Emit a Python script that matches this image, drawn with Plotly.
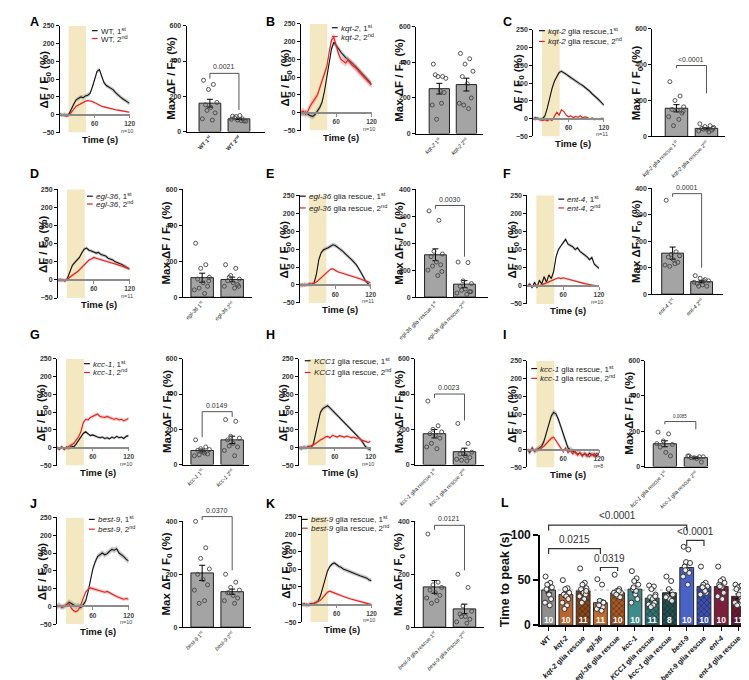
import plotly.graph_objects as go

W, H = 749, 680
FONT = "Arial, Liberation Sans, sans-serif"

# ---------------- time-course data (mean traces, %), t = 0..120 s every 4 s ----------------
T = list(range(0, 121, 4))
A_1st = [2,-1,1,-2,3, 18,30,42,45,50, 48,53,55,60,78, 102,122,127,110,90, 82,78,74,70,62, 55,50,45,40,36, 32]
A_2nd = [0,-2,-3,-4,-2, 8,16,24,28,32, 35,38,40,39,37, 34,30,26,24,22, 20,19,17,16,14, 13,12,10,9,8, 7]
B_1st = [0,-3,2,-5,-8, -10,-5,5,15,30, 60,100,140,180,198, 190,180,170,162,155, 150,145,138,132,125, 118,110,102,95,88, 80]
B_2nd = [0,5,-5,5,20, 30,40,50,70,90, 110,130,170,205,212, 185,165,150,145,140, 148,140,132,128,120, 112,105,98,92,85, 78]
C_1st = [0,2,0,-2,0, 8,30,60,85,105, 120,130,133,130,125, 120,115,110,105,100, 97,93,88,82,77, 70,65,58,52,45, 38]
C_2nd = [0,-3,2,-4,-5, -3,-6,-2,-5,8, 18,10,25,20,10, 5,8,3,6,4, 8,2,5,3,-2, 2,-3,0,-2,1, 0]
D_1st = [0,-2,0,-3,5, 25,40,48,55,62, 75,85,88,82,80, 78,74,76,70,68, 66,60,58,55,50, 48,44,42,38,35, 30]
D_2nd = [0,2,-2,0,2, 8,12,18,22,28, 35,40,48,55,58, 62,60,58,56,55, 52,50,50,47,45, 42,40,38,35,32, 30]
E_1st = [0,-2,2,0,2, 2,5,30,70,90, 98,100,104,108,112, 110,106,100,95,88, 82,76,70,64,56, 45,35,22,10,2, -3]
E_2nd = [0,2,-2,0,3, 2,4,8,14,20, 26,32,38,44,45, 40,37,35,33,31, 30,28,26,24,22, 19,16,13,10,8, 6]
F_1st = [0,5,-5,10,-5, 15,5,25,10,30, 20,40,80,100,110, 120,128,115,112,108, 100,105,95,90,85, 80,72,78,60,55, 48]
F_2nd = [0,2,-2,0,2, 0,3,5,8,10, 15,18,20,22,20, 22,20,18,17,15, 14,12,10,8,6, 5,3,2,1,0, -2]
G_1st = [0,-5,3,-4,2, -3,5,2,10,20, 30,40,45,38,34, 36,32,30,28,30, 26,28,25,30,27, 32,28,30,26,32, 34]
G_2nd = [0,-3,2,-5,0, 3,8,12,20,30, 45,70,80,78,85, 88,92,95,88,86, 85,88,84,82,80, 82,78,80,76,78, 82]
H_1st = [0,-3,2,0,3, 0,10,40,75,100, 110,115,118,112,105, 98,92,85,80,72, 65,58,50,45,38, 30,22,12,2,-3, -5]
H_2nd = [0,2,-2,0,2, 5,8,12,18,22, 25,30,32,28,35, 32,30,34,32,30, 33,30,28,30,26, 28,22,20,18,15, 18]
I_1st = [0,-8,5,-5,0, 5,10,25,50,75, 95,105,100,85,65, 40,20,5,0,-5, -8,-12,-10,-15,-12, -18,-10,-15,-12,-18, -10]
I_2nd = [0,-5,3,-3,2, 0,5,10,18,25, 32,35,25,12,2, -5,5,-8,-2,-12, -5,-15,-8,-18,-10, -15,-20,-12,-18,-10, -15]
J_1st = [0,3,-2,0,5, 12,8,3,0,2, -3,5,15,40,75, 105,125,140,145,150, 145,148,155,160,158, 162,150,145,140,132, 128]
J_2nd = [0,2,-2,0,5, 8,-5,-12,-15,-10, 5,25,40,48,52, 50,48,46,44,42, 40,42,38,36,32, 28,25,22,20,22, 20]
K_1st = [0,2,-2,0,3, 2,5,10,25,50, 75,95,108,115,118, 112,108,105,100,98, 95,92,90,88,85, 82,80,78,75,70, 68]
K_2nd = [0,-2,2,-3,0, 3,5,8,12,20, 28,35,38,36,33, 30,28,25,22,20, 18,16,14,12,10, 8,6,4,3,2, 0]

# ---------------- max dF/F0 per animal (bar panels) ----------------
A_pts = ([291,267,239,165,152,137,106,72,65,120], [87,72,65,59,78,91,60,70,62,85]); A_mean = [161, 72]; A_sem = [22, 4]
B_pts = ([390,320,320,310,330,240,230,160,170,80], [450,420,390,350,320,280,200,170,140,160]); B_mean = [252, 275]; B_sem = [30, 36]
C_pts = ([305,225,200,165,150,145,130,110,95,60,140], [70,60,55,50,45,40,35,30,25,40,45]); C_mean = [157, 45]; C_sem = [20, 4]
D_pts = ([300,180,160,110,100,80,60,40,20,50,90], [180,160,120,100,90,80,70,60,50,110,60]); D_mean = [108, 98]; D_sem = [25, 13]
E_pts = ([320,285,170,160,150,130,120,100,80,115,95], [130,128,60,50,40,30,20,15,10,25,20]); E_mean = [157, 48]; E_sem = [22, 13]
F_pts = ([355,160,150,145,140,130,120,110,115,105], [70,55,60,50,40,35,30,45,50,30]); F_mean = [155, 47]; F_sem = [23, 4]
G_pts = ([140,100,90,85,80,70,60,50,65,55], [255,245,160,150,140,120,100,80,50,105]); G_mean = [80, 140]; G_sem = [8, 21]
H_pts = ([360,220,200,185,175,165,150,100,90,120], [233,120,80,70,60,50,40,30,20,25]); H_mean = [175, 73]; H_sem = [24, 20]
I_pts = ([195,185,145,125,110,80,60,130], [60,55,50,55,50,45,25,60]); I_mean = [129, 50]; I_sem = [17, 4]
J_pts = ([400,300,260,220,200,180,160,140,100,90], [200,170,150,140,130,120,110,100,90,130]); J_mean = [205, 134]; J_sem = [29, 10]
K_pts = ([352,170,160,150,140,130,120,110,100,90], [200,150,80,60,50,40,30,20,15,40]); K_mean = [152, 69]; K_sem = [24, 18]

# ---------------- panel L: time to peak ----------------
L_labels = ["<b>WT</b>", "<b><i>kqt-2</i></b>", "<b><i>kqt-2</i> glia rescue</b>", "<b><i>egl-36</i></b>",
            "<b><i>egl-36</i> glia rescue</b>", "<b><i>kcc-1</i></b>", "<b><i>KCC1</i> glia rescue</b>",
            "<b><i>kcc-1</i> glia rescue</b>", "<b><i>best-9</i></b>", "<b><i>best-9</i> glia rescue</b>",
            "<b><i>ent-4</i></b>", "<b><i>ent-4</i> glia rescue</b>"]
L_mean = [39, 34, 38, 25, 36, 40, 30, 36, 64, 43, 43, 32]
L_sem = [3.3, 3.0, 3.2, 3.0, 2.4, 3.4, 2.5, 3.3, 4.0, 2.7, 3.2, 2.6]
L_n = [10, 10, 11, 11, 10, 10, 11, 8, 10, 10, 10, 11]
L_pts = [[54,47,44,42,40,34,29,25,22,45],
         [50,41,40,36,34,32,29,25,22,18],
         [63,47,45,41,40,36,34,32,29,25,38],
         [51,45,27,25,23,22,20,18,16,22,25],
         [56,40,38,36,34,32,31,36,38,34],
         [60,52,49,45,40,34,29,25,38,42],
         [44,43,40,34,31,29,25,23,22,20,32],
         [54,49,40,34,32,29,27,31],
         [87,84,70,69,65,61,58,54,45,61],
         [65,47,45,43,42,40,36,34,38,42],
         [65,51,49,47,45,42,36,32,29,43],
         [45,43,42,44,40,34,29,25,23,22,27]]
L_color = ["#8e8e8e", "#b8642c", "#8a4518", "#c06a2e", "#a85a25", "#3f8b8b",
           "#2f7474", "#234f4f", "#4a62c6", "#3b50b2", "#7b1f3d", "#6b1a33"]
L_checker = [False, False, True, False, True, False, True, True, False, True, False, True]
L_brackets = [(0, 8, 111, 105, 105, "&lt;0.0001"), (0, 3, 85, 79, 79, "0.0215"),
              (3, 4, 64, 60, 60, "0.0319"), (8, 9, 94, 88, 88, "&lt;0.0001")]

# ---------------- styling helpers ----------------
SHADE = "#f4e8c2"
BLACK = "#141414"
RED = "#e3231c"
GBAND = "rgba(140,140,140,0.45)"
RBAND = "rgba(240,110,110,0.40)"
BARGRAY = "#a4a4a4"

fig = go.Figure()
axes = {}
_n = [0]


def base_axis(**kw):
    d = dict(showgrid=False, zeroline=False, showline=True, linecolor="black", linewidth=1,
             ticks="outside", ticklen=3, tickwidth=1, tickcolor="black",
             tickfont=dict(size=7, family=FONT, color="#333", weight="bold"))
    d.update(kw)
    return d


def add_axes(xd, yd, xkw, ykw):
    _n[0] += 1
    s = "" if _n[0] == 1 else str(_n[0])
    xkw = dict(xkw); ykw = dict(ykw)
    xkw["domain"] = xd; ykw["domain"] = yd
    xkw.setdefault("anchor", "y" + s)
    ykw.setdefault("anchor", "x" + s)
    axes["xaxis" + s] = xkw
    axes["yaxis" + s] = ykw
    return "x" + s, "y" + s


def px(x):
    return x / W


def py(y):
    return 1 - y / H


def text(x, y, t, size, xanchor="center", yanchor="middle", angle=0, color="#111", bold=False):
    fig.add_annotation(x=px(x), y=py(y), xref="paper", yref="paper", text=t, showarrow=False,
                       xanchor=xanchor, yanchor=yanchor, textangle=angle,
                       font=dict(size=size, family=FONT, color=color, weight="bold" if bold else "normal"))


# ---------------- line panels ----------------
LINE = [
    dict(d=(A_1st, A_2nd), sem=(6, 3), leg=("WT, 1<sup>st</sup>", "WT, 2<sup>nd</sup>"), n="n=10",
         xl=35, xr=107, yt=11, yb=120, lx=68, ly=(16, 24)),
    dict(d=(B_1st, B_2nd), sem=(8, 10), leg=("<i>kqt-2</i>, 1<sup>st</sup>", "<i>kqt-2</i>, 2<sup>nd</sup>"), n="n=10",
         xl=284, xr=357, yt=9, yb=118, lx=316, ly=(13, 22)),
    dict(d=(C_1st, C_2nd), sem=(5, 3), leg=("<i>kqt-2</i> glia rescue,1<sup>st</sup>", "<i>kqt-2</i> glia rescue, 2<sup>nd</sup>"), n="n=11",
         xl=524, xr=597, yt=15, yb=124, lx=530, ly=(16, 27)),
    dict(d=(D_1st, D_2nd), sem=(5, 4), leg=("<i>egl-36</i>, 1<sup>st</sup>", "<i>egl-36</i>, 2<sup>nd</sup>"), n="n=11",
         xl=33, xr=107, yt=178, yb=289, lx=63, ly=(185, 193)),
    dict(d=(E_1st, E_2nd), sem=(6, 4), leg=("<i>egl-36</i> glia rescue, 1<sup>st</sup>", "<i>egl-36</i> glia rescue, 2<sup>nd</sup>"), n="n=11",
         xl=283, xr=356, yt=184, yb=294, lx=283, ly=(185, 197)),
    dict(d=(F_1st, F_2nd), sem=(5, 3), leg=("<i>ent-4</i>, 1<sup>st</sup>", "<i>ent-4</i>, 2<sup>nd</sup>"), n="n=10",
         xl=518, xr=592, yt=184, yb=295, lx=550, ly=(188, 197)),
    dict(d=(G_1st, G_2nd), sem=(4, 5), leg=("<i>kcc-1</i>, 1<sup>st</sup>", "<i>kcc-1</i>, 2<sup>nd</sup>"), n="n=10",
         xl=32, xr=106, yt=351, yb=460, lx=60, ly=(356, 365)),
    dict(d=(H_1st, H_2nd), sem=(6, 4), leg=("<i>KCC1</i> glia rescue, 1<sup>st</sup>", "<i>KCC1</i> glia rescue, 2<sup>nd</sup>"), n="n=10",
         xl=282, xr=356, yt=351, yb=460, lx=288, ly=(353, 365)),
    dict(d=(I_1st, I_2nd), sem=(8, 5), leg=("<i>kcc-1</i> glia rescue, 1<sup>st</sup>", "<i>kcc-1</i> glia rescue, 2<sup>nd</sup>"), n="n=8",
         xl=518, xr=592, yt=353, yb=462, lx=522, ly=(361, 371)),
    dict(d=(J_1st, J_2nd), sem=(8, 5), leg=("<i>best-9</i>, 1<sup>st</sup>", "<i>best-9</i>, 2<sup>nd</sup>"), n="n=10",
         xl=32, xr=106, yt=513, yb=622, lx=65, ly=(515, 525)),
    dict(d=(K_1st, K_2nd), sem=(6, 4), leg=("<i>best-9</i> glia rescue, 1<sup>st</sup>", "<i>best-9</i> glia rescue, 2<sup>nd</sup>"), n="n=10",
         xl=285, xr=357, yt=512, yb=620, lx=285, ly=(515, 524)),
]

for p in LINE:
    xl, xr, yt, yb = p["xl"], p["xr"], p["yt"], p["yb"]
    y0 = yt + (yb - yt) * 250 / 300
    xa, ya = add_axes([px(xl), px(xr)], [py(yb), py(yt)],
                      base_axis(range=[0, 120], anchor="free", position=py(y0), tickvals=[60, 120],
                                linecolor="#8c8c8c", linewidth=1.5, tickcolor="#8c8c8c",
                                tickfont=dict(size=6.5, family=FONT, color="#444", weight="bold")),
                      base_axis(range=[-50, 250], tickvals=[-50, 0, 50, 100, 150, 200, 250]))
    fig.add_shape(type="rect", xref=xa, yref=ya, x0=15, x1=45, y0=-50, y1=250,
                  fillcolor=SHADE, line_width=0, layer="below")
    for vals, s, col, band in ((p["d"][0], p["sem"][0], BLACK, GBAND), (p["d"][1], p["sem"][1], RED, RBAND)):
        up = [v + s for v in vals]
        lo = [v - s for v in vals]
        fig.add_trace(go.Scatter(x=T + T[::-1], y=up + lo[::-1], fill="toself", fillcolor=band,
                                 line=dict(width=0), mode="lines", hoverinfo="skip", xaxis=xa, yaxis=ya))
        fig.add_trace(go.Scatter(x=T, y=vals, mode="lines", line=dict(color=col, width=1.1),
                                 xaxis=xa, yaxis=ya))
    for k, (lbl, col) in enumerate(zip(p["leg"], (BLACK, RED))):
        yy = p["ly"][k]
        fig.add_shape(type="line", xref="paper", yref="paper", x0=px(p["lx"]), x1=px(p["lx"] + 6),
                      y0=py(yy), y1=py(yy), line=dict(color=col, width=1.2))
        text(p["lx"] + 7, yy, lbl, 8, xanchor="left", color="#222")
    text(xl - 15, (yt + yb) / 2, "ΔF / F<sub>0</sub> (%)", 11.5, angle=-90, bold=True)
    text((xl + xr) / 2 + 5, yb + 7, "Time (s)", 9.5, bold=True)
    text(xr + 6, yb - 2, p["n"], 5.5, xanchor="right", color="#444")

# ---------------- bar panels ----------------
BARS = [
    dict(pts=A_pts, mean=A_mean, sem=A_sem, lab=("<b>WT 1<sup>st</sup></b>", "<b>WT 2<sup>nd</sup></b>"),
         ax=166, c=(190, 220), end=247, yt=11, y0=119, ymax=600, dt=200, br=(330, 300, 122, "0.0021"), title="Max ΔF / F<sub>0</sub> (%)"),
    dict(pts=B_pts, mean=B_mean, sem=B_sem, lab=("<i>kqt-2</i> 1<sup>st</sup>", "<i>kqt-2</i> 2<sup>nd</sup>"),
         ax=403, c=(427, 455), end=472, yt=12, y0=121, ymax=600, dt=200, br=None, title="Max ΔF / F<sub>0</sub> (%)"),
    dict(pts=C_pts, mean=C_mean, sem=C_sem, lab=("<i>kqt-2</i> glia rescue 1<sup>st</sup>", "<i>kqt-2</i> glia rescue 2<sup>nd</sup>"),
         ax=647, c=(672, 703), end=722, yt=14, y0=124, ymax=600, dt=200, br=(395, 380, 240, "&lt;0.0001"), title="Max F / F<sub>0</sub> (%)"),
    dict(pts=D_pts, mean=D_mean, sem=D_sem, lab=("<i>egl-36</i> 1<sup>st</sup>", "<i>egl-36</i> 2<sup>nd</sup>"),
         ax=162, c=(182, 213), end=233, yt=178, y0=288, ymax=600, dt=200, br=None, title="Max ΔF / F<sub>0</sub> (%)"),
    dict(pts=E_pts, mean=E_mean, sem=E_sem, lab=("<i>egl-36</i> glia rescue 1<sup>st</sup>", "<i>egl-36</i> glia rescue 2<sup>nd</sup>"),
         ax=403, c=(423, 453), end=477, yt=178, y0=288, ymax=400, dt=100, br=(340, 328, 150, "0.0030"), title="Max ΔF / F<sub>0</sub> (%)"),
    dict(pts=F_pts, mean=F_mean, sem=F_sem, lab=("<i>ent-4</i> 1<sup>st</sup>", "<i>ent-4</i> 2<sup>nd</sup>"),
         ax=647, c=(668, 698), end=720, yt=177, y0=285, ymax=400, dt=100, br=(380, 368, 100, "0.0001"), title="Max ΔF / F<sub>0</sub> (%)"),
    dict(pts=G_pts, mean=G_mean, sem=G_sem, lab=("<i>kcc-1</i> 1<sup>st</sup>", "<i>kcc-1</i> 2<sup>nd</sup>"),
         ax=162, c=(182, 213), end=230, yt=351, y0=459, ymax=600, dt=200, br=(300, 155, 270, "0.0149"), title="Max ΔF / F<sub>0</sub> (%)"),
    dict(pts=H_pts, mean=H_mean, sem=H_sem, lab=("<i>kcc-1</i> glia rescue 1<sup>st</sup>", "<i>kcc-1</i> glia rescue 2<sup>nd</sup>"),
         ax=402, c=(422, 453), end=473, yt=351, y0=459, ymax=600, dt=200, br=(400, 378, 250, "0.0023"), title="Max ΔF / F<sub>0</sub> (%)"),
    dict(pts=I_pts, mean=I_mean, sem=I_sem, lab=("<i>kcc-1</i> glia rescue 1<sup>st</sup>", "<i>kcc-1</i> glia rescue 2<sup>nd</sup>"),
         ax=640, c=(660, 692), end=705, yt=353, y0=461, ymax=600, dt=200, br=(255, 240, 210, "0.0085"), title="Max ΔF / F<sub>0</sub> (%)", small=True),
    dict(pts=J_pts, mean=J_mean, sem=J_sem, lab=("<i>best-9</i> 1<sup>st</sup>", "<i>best-9</i> 2<sup>nd</sup>"),
         ax=162, c=(182, 213), end=232, yt=517, y0=625, ymax=400, dt=200, br=(418, 405, 215, "0.0370"), title="Max ΔF / F<sub>0</sub> (%)"),
    dict(pts=K_pts, mean=K_mean, sem=K_sem, lab=("<i>best-9</i> glia rescue 1<sup>st</sup>", "<i>best-9</i> glia rescue 2<sup>nd</sup>"),
         ax=402, c=(422, 453), end=473, yt=517, y0=625, ymax=400, dt=200, br=(385, 368, 215, "0.0121"), title="Max ΔF / F<sub>0</sub> (%)"),
]

JIT = [-0.22, 0.12, -0.05, 0.24, -0.15, 0.03, 0.18, -0.26, 0.08, -0.1, 0.22]

for p in BARS:
    ax, end, (c0, c1), yt, y0, ymax = p["ax"], p["end"], p["c"], p["yt"], p["y0"], p["ymax"]
    u = c1 - c0
    xa, ya = add_axes([px(ax), px(end)], [py(y0), py(yt)],
                      base_axis(range=[(ax - c0) / u, (end - c0) / u], tickvals=[0, 1], ticktext=list(p["lab"]),
                                tickangle=-45, ticks="", tickfont=dict(size=5.5, family=FONT, color="#222")),
                      base_axis(range=[0, ymax], dtick=p["dt"]))
    fig.add_trace(go.Bar(x=[0, 1], y=p["mean"], width=0.75,
                         marker=dict(color=BARGRAY, line=dict(color="#222", width=1)),
                         error_y=dict(type="data", array=p["sem"], color="black", thickness=1, width=3),
                         xaxis=xa, yaxis=ya))
    for i, vals in enumerate(p["pts"]):
        xs = [i + JIT[j % len(JIT)] for j in range(len(vals))]
        fig.add_trace(go.Scatter(x=xs, y=vals, mode="markers", cliponaxis=False,
                                 marker=dict(symbol="circle-open", size=4, color="#444", line=dict(width=0.9)),
                                 xaxis=xa, yaxis=ya))
    if p["br"]:
        top, lft, rgt, lbl = p["br"]

        def vp(v, y0=y0, yt=yt, ymax=ymax):
            return y0 - v / ymax * (y0 - yt)
        path = (f"M {px(c0)} {py(vp(lft))} L {px(c0)} {py(vp(top))} "
                f"L {px(c1)} {py(vp(top))} L {px(c1)} {py(vp(rgt))}")
        fig.add_shape(type="path", xref="paper", yref="paper", path=path, line=dict(color="#555", width=1))
        text((c0 + c1) / 2, vp(top) - 1, lbl, 4.5 if p.get("small") else 7, yanchor="bottom", color="#333")
    text(ax - 16, (yt + y0) / 2, p["title"], 11.5, angle=-90, bold=True)

# ---------------- panel L ----------------
LX0, LX1, LY100, LY0 = 531, 745, 531, 623
xa, ya = add_axes([px(LX0), px(LX1)], [py(LY0), py(LY100)],
                  base_axis(range=[-0.5, 11.5], tickvals=list(range(12)), ticktext=L_labels, tickangle=-45,
                            linewidth=1.6, ticklen=4, tickwidth=1.4,
                            tickfont=dict(size=7.2, family=FONT, color="#111")),
                  base_axis(range=[0, 100], tickvals=[0, 50, 100], linewidth=1.6, ticklen=5, tickwidth=1.6,
                            tickfont=dict(size=12, family=FONT, color="#111", weight="bold")))
fig.add_shape(type="line", xref=xa, yref=ya, x0=-0.5, x1=11.5, y0=L_mean[0], y1=L_mean[0],
              line=dict(color="#b5b5b5", width=1, dash="dot"), layer="below")
for i in range(12):
    mk = dict(color=L_color[i], line=dict(color="#2a2a2a", width=1))
    if L_checker[i]:
        mk["pattern"] = dict(shape="x", fgcolor="rgba(20,20,20,0.55)", bgcolor=L_color[i], size=4,
                             solidity=0.35, fillmode="replace")
    fig.add_trace(go.Bar(x=[i], y=[L_mean[i]], width=0.8, marker=mk,
                         error_y=dict(type="data", array=[L_sem[i]], color="black", thickness=1.3, width=3),
                         xaxis=xa, yaxis=ya))
for i, vals in enumerate(L_pts):
    xs = [i + 0.8 * JIT[j % len(JIT)] for j in range(len(vals))]
    fig.add_trace(go.Scatter(x=xs, y=vals, mode="markers", cliponaxis=False,
                             marker=dict(symbol="circle", size=5, color="rgba(255,255,255,0.85)",
                                         line=dict(color="#333", width=1)),
                             xaxis=xa, yaxis=ya))
fig.add_trace(go.Scatter(x=list(range(12)), y=[5] * 12, mode="text", text=[f"<b>{n}</b>" for n in L_n],
                         textfont=dict(size=8.5, color="white", family=FONT), xaxis=xa, yaxis=ya))

unit = (LX1 - LX0) / 12.0


def lxp(i):
    return LX0 + (i + 0.5) * unit


def lyp(v):
    return LY0 - v / 100.0 * (LY0 - LY100)


for a, b, top, dl, dr, lbl in L_brackets:
    path = (f"M {px(lxp(a))} {py(lyp(dl))} L {px(lxp(a))} {py(lyp(top))} "
            f"L {px(lxp(b))} {py(lyp(top))} L {px(lxp(b))} {py(lyp(dr))}")
    fig.add_shape(type="path", xref="paper", yref="paper", path=path, line=dict(color="#333", width=1.2))
    text((lxp(a) + lxp(b)) / 2, lyp(top) - 2, lbl, 10, yanchor="bottom", color="#333")
text(495, 577, "Time to peak (s)", 12.5, angle=-90, bold=True)

# ---------------- panel letters ----------------
for letter, x, y in [("A", 2, 7), ("B", 246, 7), ("C", 491, 7), ("D", 2, 162), ("E", 246, 162), ("F", 491, 162),
                     ("G", 2, 327), ("H", 246, 327), ("I", 491, 327), ("J", 2, 499), ("K", 246, 499), ("L", 489, 498)]:
    text(x, y, letter, 12.5, xanchor="left", bold=True, color="black")

fig.update_layout(width=W, height=H, margin=dict(l=0, r=0, t=0, b=0), showlegend=False,
                  plot_bgcolor="white", paper_bgcolor="white", barmode="overlay",
                  font=dict(family=FONT), **axes)
fig.write_html("out.html")
